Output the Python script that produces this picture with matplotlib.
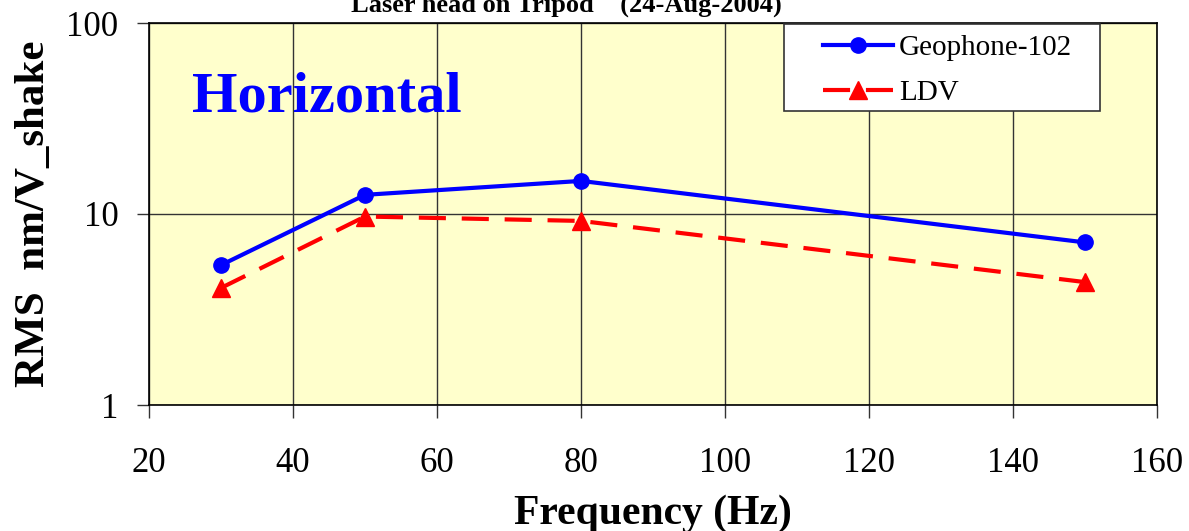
import matplotlib
matplotlib.use("Agg")
import matplotlib.pyplot as plt
from matplotlib.patches import Rectangle

# data
freq = [30, 50, 80, 150]
geophone = [5.4, 12.6, 14.9, 7.1]
ldv = [4.1, 9.7, 9.2, 4.4]
xticks = [20, 40, 60, 80, 100, 120, 140, 160]
yticks = [1, 10, 100]
ytick_labels = ["1", "10", "100"]

plt.rcParams["font.family"] = ["Liberation Serif", "DejaVu Serif"]

W, H = 1189, 531
fig = plt.figure(figsize=(W / 100, H / 100), dpi=100)
ax = fig.add_axes([149 / W, 1 - 405 / H, 1008 / W, 382 / H])
ax.set_facecolor("#FFFFCC")

ax.plot(freq, geophone, color="#0000FF", lw=3, marker="o", ms=11, label="Geophone-102")
ax.plot(freq, ldv, color="#FF0000", lw=3, ls=(0, (6.5, 3.8)), marker="^", ms=13, label="LDV")

ax.set_yscale("log")
ax.set_xlim(20, 160)
ax.set_ylim(1, 100)
ax.set_xticks(xticks)
ax.set_yticks(yticks)
ax.set_yticklabels(ytick_labels)
ax.minorticks_off()
ax.grid(True, which="major", color="#333333", lw=1)
ax.set_axisbelow(True)
ax.tick_params(direction="out", length=9, width=1, labelsize=25, color="#333333")
ax.tick_params(axis="x", pad=21)
ax.tick_params(axis="y", pad=13)
for s in ax.spines.values():
    s.set_linewidth(1.2)

ax.set_xlabel("Frequency (Hz)", fontsize=30, fontweight="bold")
ax.xaxis.set_label_coords(0.5, -(524 - 405) / 382)
ax.xaxis.label.set_va("baseline")
ax.set_ylabel("RMS  nm/V_shake", fontsize=31, fontweight="bold")
ax.yaxis.set_label_coords(-(149 - 15) / 1008, 0.5)
ax.yaxis.label.set_va("top")

ax.text(43 / 1008, (405 - 112) / 382, "Horizontal", transform=ax.transAxes,
        color="#0000FF", fontsize=42, fontweight="bold", va="baseline")

# legend box drawn by hand so the padding matches the reference
box = Rectangle((784 / W, 1 - 111 / H), 316 / W, 87 / H, transform=fig.transFigure,
                facecolor="white", edgecolor="#333333", lw=1.2, zorder=4.9, clip_on=False)
ax.add_patch(box)
leg = ax.legend(loc="upper left", bbox_to_anchor=(823 / W, 1 - 35 / H),
                bbox_transform=fig.transFigure, fontsize=21, frameon=False,
                borderpad=0, borderaxespad=0, handlelength=2.4, handletextpad=0.2,
                labelspacing=0.64)

fig.text(566 / W, 1 - 12 / H, "Laser head on Tripod    (24-Aug-2004)",
         ha="center", va="baseline", fontsize=19, fontweight="bold")

fig.savefig("out.png", dpi=100)
